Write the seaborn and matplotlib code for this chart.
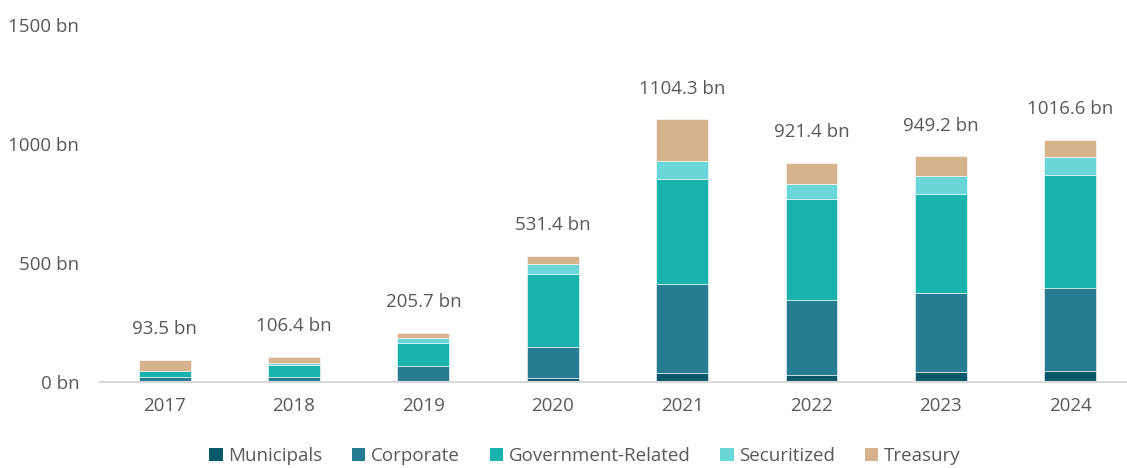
import pandas as pd
import matplotlib
matplotlib.use("Agg")
import matplotlib.pyplot as plt
import seaborn as sns
from matplotlib.patches import Patch

# --- dados ---
years = [2017, 2018, 2019, 2020, 2021, 2022, 2023, 2024]
municipals = [5, 2, 3, 15, 37, 30, 41, 45]
corporate = [18, 21, 66, 133, 375, 314, 332, 350]
government = [22, 50, 95, 307, 441, 425, 418, 473]
securitized = [3, 6, 22, 39, 74, 65, 76, 76]
treasury = [45.5, 27.4, 19.7, 37.4, 177.3, 87.4, 82.2, 72.6]
totals = [93.5, 106.4, 205.7, 531.4, 1104.3, 921.4, 949.2, 1016.6]

categories = ["Municipals", "Corporate", "Government-Related", "Securitized", "Treasury"]
colors = ["#09596a", "#287c91", "#19b2ac", "#69d6d8", "#d6b38c"]
yticks = [0, 500, 1000, 1500]

series = [municipals, corporate, government, securitized, treasury]
rows = []
for cat, vals in zip(categories, series):
    for y, v in zip(years, vals):
        rows.append({"year": y, "segment": cat, "value": v})
df = pd.DataFrame(rows)

sns.set_style("white")
plt.rcParams["font.family"] = ["Open Sans", "DejaVu Sans"]
txt = "#595959"

fig = plt.figure(figsize=(11.27, 4.68), dpi=100)
ax = fig.add_axes([100 / 1127, 86 / 468, 1 - 100 / 1127, (443 - 86) / 468])

# seaborn empilha o primeiro nivel no topo -> ordem invertida
sns.histplot(data=df, x="year", hue="segment", weights="value",
             hue_order=categories[::-1], palette=colors[::-1],
             multiple="stack", discrete=True, shrink=0.4, alpha=1,
             edgecolor="white", linewidth=0.4, legend=False, ax=ax)

for y, t in zip(years, totals):
    ax.annotate(f"{t:.1f} bn", (y, t), xytext=(0, 22), textcoords="offset points",
                ha="center", va="center", fontsize=13.5, color=txt)

ax.set_xlim(2016.5, 2024.44)
ax.set_ylim(0, 1500)
ax.set_xticks(years)
ax.set_xticklabels([str(y) for y in years])
ax.set_yticks(yticks)
ax.set_yticklabels([f"{v} bn" for v in yticks])
ax.set_xlabel("")
ax.set_ylabel("")
ax.tick_params(axis="both", length=0, labelsize=13.5, labelcolor=txt)
ax.tick_params(axis="x", pad=11)
ax.tick_params(axis="y", pad=15)
for s in ["top", "right", "left"]:
    ax.spines[s].set_visible(False)
ax.spines["bottom"].set_color("#d9d9d9")
ax.spines["bottom"].set_linewidth(1.5)

handles = [Patch(facecolor=c, edgecolor="none", label=l) for c, l in zip(colors, categories)]
fig.legend(handles=handles, loc="center", bbox_to_anchor=(0.519, 0.026), ncol=5,
           frameon=False, fontsize=13.5, handlelength=0.7, handleheight=0.7,
           handletextpad=0.3, columnspacing=1.6, labelcolor=txt,
           borderpad=0, borderaxespad=0)

fig.savefig("out.png", dpi=100)
